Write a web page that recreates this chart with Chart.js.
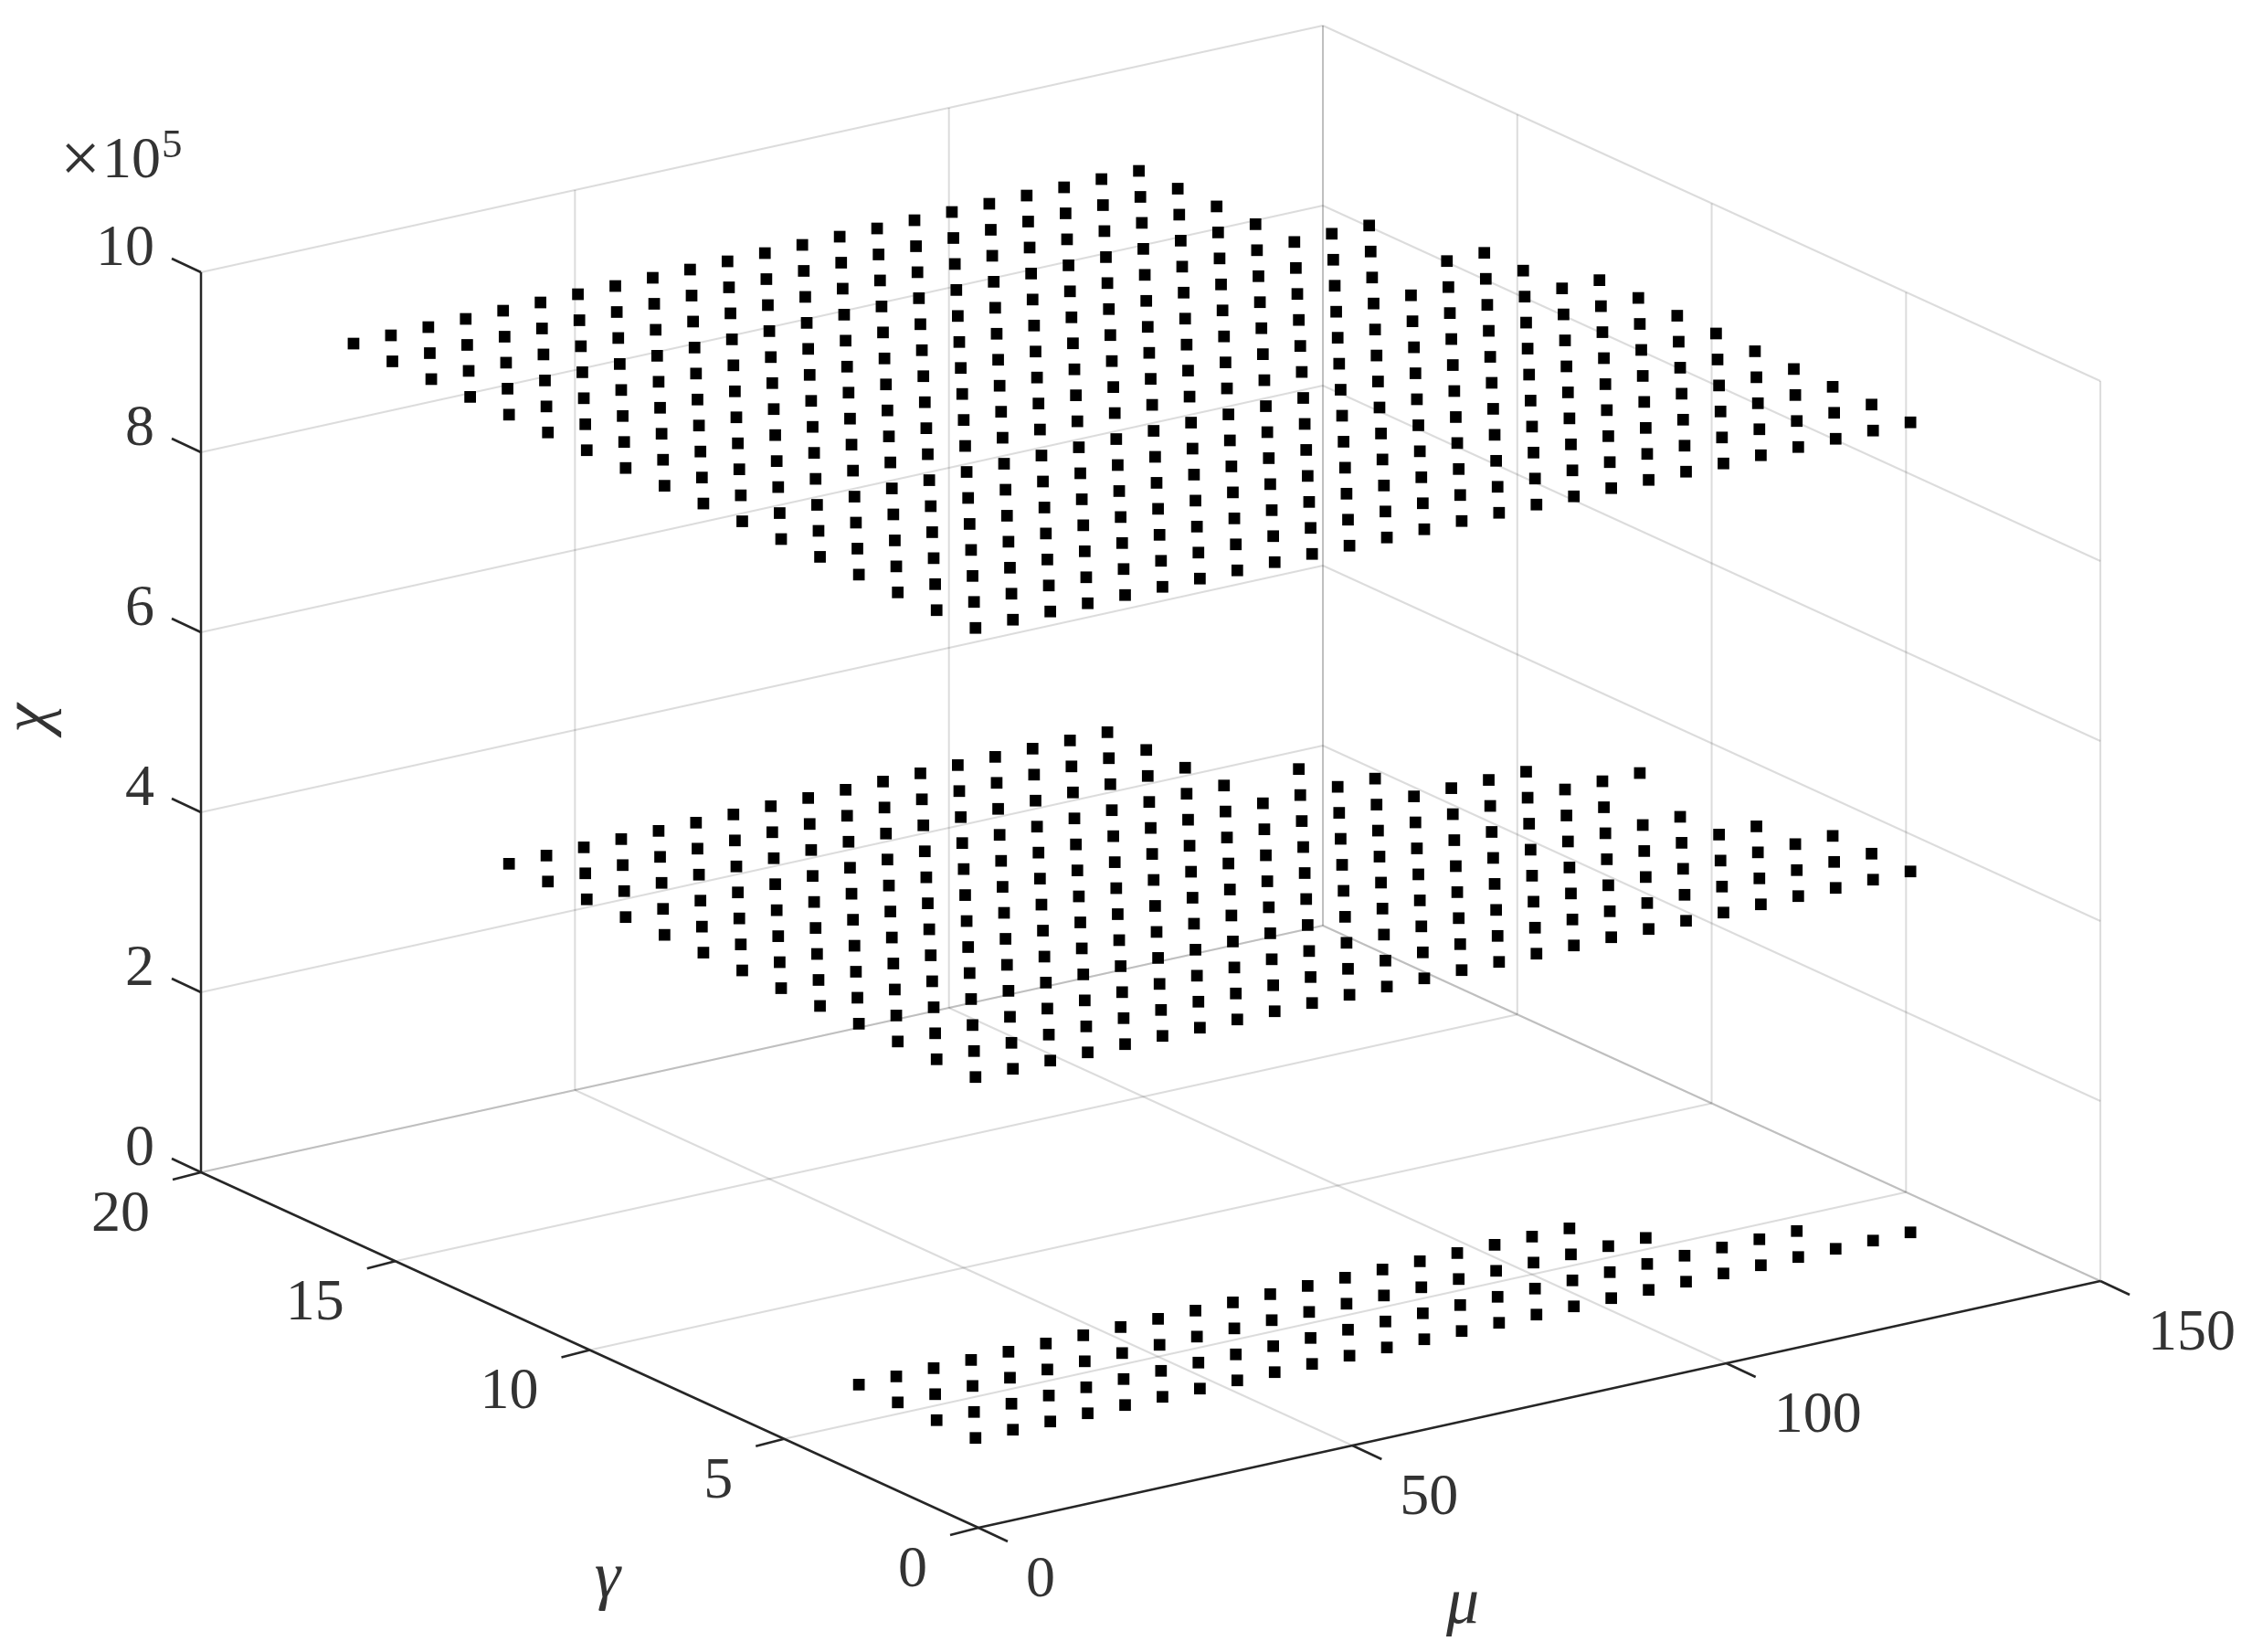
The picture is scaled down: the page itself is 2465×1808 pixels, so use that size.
<!DOCTYPE html>
<html lang="en">

<head>
  <meta charset="UTF-8">
  <title>Scatter of chi over mu and gamma</title>
  <script src="https://cdn.jsdelivr.net/npm/chart.js@4.2.1/dist/chart.umd.min.js"></script>
  <style>
    html, body {
      margin: 0;
      padding: 0;
      background: #fff;
    }

    canvas {
      display: block;
    }
  </style>
</head>

<body>
  <canvas id="chart" width="2465" height="1808"></canvas>

  <script>
    // grid of the runs
    const muValues = [10, 15, 20, 25, 30, 35, 40, 45, 50, 55, 60, 65, 70, 75, 80, 85, 90, 95, 100, 105, 110, 115, 120, 125, 130, 135];

    // chi level of each plane, in units of 10^5
    const chiLow = 0.42;
    const chiMid = 4.43;
    const chiHigh = 9.42;

    // largest gamma reached at each mu, starting from gamma = 2
    const lowMaxGamma = [5, 5, 5, 5, 5, 5, 5, 5, 5, 5, 5, 5, 5, 5, 5, 5, 5, 5, 5, 5, 4, 3, 3, 3, 2, 2];
    const midMaxGamma = [14, 14, 14, 14, 14, 14, 14, 14, 14, 14, 14, 14, 14, 14, 14, 14, 14, 10, 11, 10, 9, 9, 9, 8, 8, 4];
    const highMaxGamma = [18, 18, 18, 18, 18, 18, 18, 18, 18, 18, 18, 18, 18, 18, 18, 18, 18, 18, 18, 18, 18, 18, 14, 14, 12, 10];

    // runs missing inside those ranges, [mu, gamma]
    const midGaps = [[125, 7], [130, 6], [130, 7]];
    const highGaps = [[120, 12], [125, 13]];

    // axes
    const muTicks = [0, 50, 100, 150];
    const gammaTicks = [0, 5, 10, 15, 20];
    const chiTicks = [0, 2, 4, 6, 8, 10];
    const muMax = 150;
    const gammaMax = 20;
    const chiMax = 10;

    const gridColor = 'rgba(38, 38, 38, 0.16)';
    const axisColor = '#262626';
    const textColor = '#333333';
    const serif = '"Liberation Serif", serif';

    // orthographic view of the box, the result is in the units of the x and y scales
    function project(mu, gamma, chi) {
      return {
        x: 1071 + mu * 8.187 - gamma * 42.55,
        y: 1672 - mu * 1.8 - gamma * 19.45 - chi * 98.5,
      };
    }

    function planePoints(chi, maxGamma, gaps) {
      const points = [];
      muValues.forEach((mu, i) => {
        for (let gamma = 2; gamma <= maxGamma[i]; gamma++) {
          if (!gaps.some(g => g[0] === mu && g[1] === gamma)) {
            points.push(project(mu, gamma, chi));
          }
        }
      });
      return points;
    }

    function line(a, b, color, width) {
      return {
        type: 'scatter',
        showLine: true,
        data: [a, b],
        borderColor: color,
        borderWidth: width,
        pointRadius: 0,
      };
    }

    function gridLines() {
      const lines = [];
      // floor
      muTicks.slice(1).forEach(mu => {
        lines.push(line(project(mu, 0, 0), project(mu, gammaMax, 0), gridColor, 2));
      });
      gammaTicks.slice(1).forEach(gamma => {
        lines.push(line(project(0, gamma, 0), project(muMax, gamma, 0), gridColor, 2));
      });
      // back walls
      chiTicks.forEach(chi => {
        lines.push(line(project(0, gammaMax, chi), project(muMax, gammaMax, chi), gridColor, 2));
        lines.push(line(project(muMax, gammaMax, chi), project(muMax, 0, chi), gridColor, 2));
      });
      muTicks.slice(1).forEach(mu => {
        lines.push(line(project(mu, gammaMax, 0), project(mu, gammaMax, chiMax), gridColor, 2));
      });
      gammaTicks.forEach(gamma => {
        lines.push(line(project(muMax, gamma, 0), project(muMax, gamma, chiMax), gridColor, 2));
      });
      return lines;
    }

    function axisLines() {
      const lines = [
        line(project(0, 0, 0), project(muMax, 0, 0), axisColor, 2.5),
        line(project(0, 0, 0), project(0, gammaMax, 0), axisColor, 2.5),
        line(project(0, gammaMax, 0), project(0, gammaMax, chiMax), axisColor, 2.5),
      ];
      // ticks lean along the neighbouring axis
      const tickOf = (p, dx, dy) => line(p, { x: p.x + dx, y: p.y + dy }, axisColor, 2.5);
      muTicks.forEach(mu => lines.push(tickOf(project(mu, 0, 0), 32, 15)));
      gammaTicks.forEach(gamma => lines.push(tickOf(project(0, gamma, 0), -31, 8)));
      chiTicks.forEach(chi => lines.push(tickOf(project(0, gammaMax, chi), -32, -15)));
      return lines;
    }

    function plane(chi, maxGamma, gaps) {
      return {
        type: 'scatter',
        data: planePoints(chi, maxGamma, gaps),
        pointStyle: 'rect',
        pointRadius: 9,
        pointBorderWidth: 0,
        backgroundColor: '#000',
      };
    }

    // tick labels and axis titles
    const labelsPlugin = {
      id: 'labels',
      afterDraw(chart) {
        const ctx = chart.ctx;
        const sx = chart.scales.x;
        const sy = chart.scales.y;
        ctx.save();
        ctx.fillStyle = textColor;
        ctx.textBaseline = 'middle';
        ctx.font = '64px ' + serif;

        ctx.textAlign = 'right';
        chiTicks.forEach(chi => {
          const p = project(0, gammaMax, chi);
          ctx.fillText(String(chi), sx.getPixelForValue(p.x) - 51, sy.getPixelForValue(p.y) - 25);
        });
        gammaTicks.forEach(gamma => {
          const p = project(0, gamma, 0);
          ctx.fillText(String(gamma), sx.getPixelForValue(p.x) - 56, sy.getPixelForValue(p.y) + 47);
        });

        ctx.textAlign = 'left';
        muTicks.forEach(mu => {
          const p = project(mu, 0, 0);
          ctx.fillText(String(mu), sx.getPixelForValue(p.x) + 52, sy.getPixelForValue(p.y) + 58);
        });

        // exponent of the chi axis
        ctx.fillText('10', 112, 177);
        ctx.font = '45px ' + serif;
        ctx.fillText('5', 177, 160);
        ctx.font = '78px ' + serif;
        ctx.fillText('\u00d7', 66, 179);

        // axis titles
        ctx.textAlign = 'center';
        ctx.font = 'italic 72px ' + serif;
        ctx.fillText('\u03b3', 665, 1729);
        ctx.fillText('\u03bc', 1601, 1757);
        ctx.translate(33, 786);
        ctx.rotate(-Math.PI / 2);
        ctx.fillText('\u03c7', 0, 0);
        ctx.restore();
      }
    };

    new Chart(document.getElementById('chart'), {
      type: 'scatter',
      data: {
        datasets: [
          plane(chiLow, lowMaxGamma, []),
          plane(chiMid, midMaxGamma, midGaps),
          plane(chiHigh, highMaxGamma, highGaps),
          ...axisLines(),
          ...gridLines(),
        ]
      },
      options: {
        responsive: false,
        animation: false,
        layout: { autoPadding: false, padding: 0 },
        scales: {
          x: { display: false, min: 0, max: 2465 },
          y: { display: false, min: 0, max: 1808, reverse: true },
        },
        plugins: {
          legend: { display: false },
          tooltip: { enabled: false },
        },
      },
      plugins: [labelsPlugin],
    });
  </script>
</body>

</html>
